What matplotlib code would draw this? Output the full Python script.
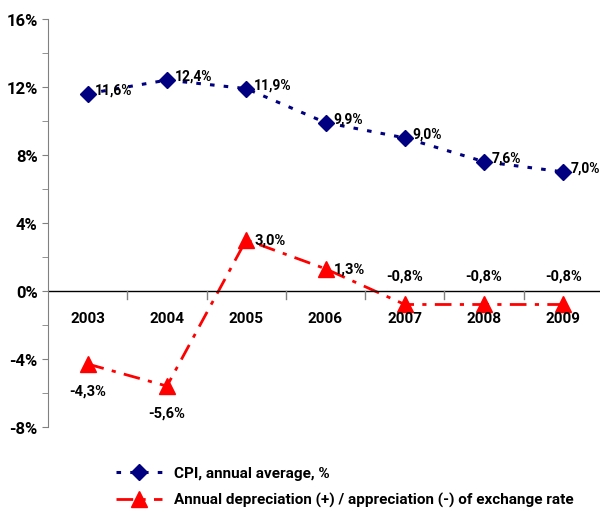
import matplotlib
matplotlib.use('Agg')
import matplotlib.pyplot as plt
from matplotlib.ticker import MultipleLocator, FuncFormatter

plt.rcParams['font.family'] = ['Roboto', 'Liberation Sans', 'DejaVu Sans']
plt.rcParams['font.weight'] = 'bold'

years = ['2003', '2004', '2005', '2006', '2007', '2008', '2009']
cpi = [11.6, 12.4, 11.9, 9.9, 9.0, 7.6, 7.0]
fx = [-4.3, -5.6, 3.0, 1.3, -0.8, -0.8, -0.8]
cpi_name = 'CPI, annual average, %'
fx_name = 'Annual depreciation (+) / appreciation (-) of exchange rate'

fig = plt.figure(figsize=(6, 5.1), dpi=100)
ax = fig.add_axes([0.08, 0.161, 0.925, 0.8])
x = list(range(len(years)))

ax.plot(x, cpi, color='#000080', linestyle=(0, (1.5, 3)), linewidth=2.2,
        marker='D', markersize=8, label=cpi_name)
ax.plot(x, fx, color='#ff0000', linestyle=(0, (6, 3, 1.5, 3)), linewidth=2,
        marker='^', markersize=11, label=fx_name)

def pct(v):
    return ('%.1f%%' % v).replace('.', ',')

for i, v in enumerate(cpi):
    ax.annotate(pct(v), (i, v), xytext=(5.5, 3), textcoords='offset points',
                ha='left', va='center', fontsize=10, fontweight='bold')
for i, v in enumerate(fx):
    if v < -1:
        off, ha, va = (0, -14), 'center', 'top'
    elif v < 0:
        off, ha, va = (0, 16), 'center', 'bottom'
    else:
        off, ha, va = (6, 0), 'left', 'center'
    ax.annotate(pct(v), (i, v), xytext=off, textcoords='offset points',
                ha=ha, va=va, fontsize=10.5, fontweight='bold')

ax.set_xlim(-0.5, 6.5)
ax.set_ylim(-8, 16)
ax.yaxis.set_major_locator(MultipleLocator(4))
ax.yaxis.set_minor_locator(MultipleLocator(2))
ax.yaxis.set_major_formatter(FuncFormatter(lambda v, p: '%d%%' % v))
ax.tick_params(axis='y', which='both', direction='out', length=4, color='#808080', labelsize=12)

for s in ['top', 'right', 'bottom']:
    ax.spines[s].set_visible(False)
ax.spines['left'].set_color('#808080')
ax.axhline(0, color='black', linewidth=1)

# category labels below zero line, ticks between categories
ax.set_xticks([])
for i, y in enumerate(years):
    ax.text(i, -1.6, y, ha='center', va='center', fontsize=11, fontweight='bold')
for b in [i + 0.5 for i in range(len(years) - 1)]:
    ax.plot([b, b], [0, -0.45], color='#808080', linewidth=1)

leg = fig.legend(loc='lower left', bbox_to_anchor=(0.17, -0.024), frameon=False,
                 fontsize=11, handlelength=3, labelspacing=0.8)
for t in leg.get_texts():
    t.set_fontweight('bold')

fig.savefig('out.png', dpi=100)
